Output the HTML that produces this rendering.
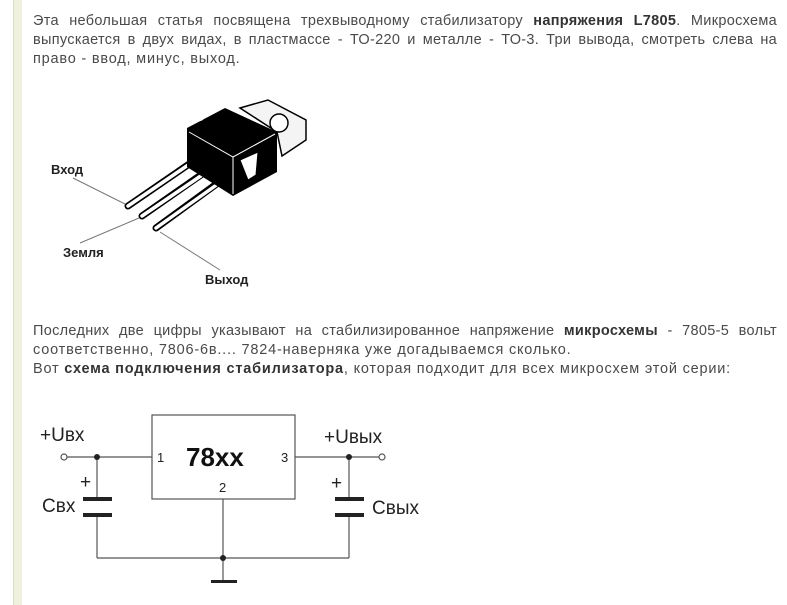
<!DOCTYPE html>
<html><head><meta charset="utf-8"><style>
body{margin:0;width:787px;height:605px;background:#fff;position:relative;overflow:hidden;font-family:"Liberation Sans",Arial,sans-serif}
.bar{position:absolute;left:13px;top:0;width:8px;height:605px;background:#eff0dd;border-left:1px solid #d8dccc}
.p{position:absolute;left:33px;width:744px;font-size:14.5px;line-height:19px;color:#4a4a4a;letter-spacing:0.8px}
.p div{white-space:nowrap}
.j{text-align:justify;text-align-last:justify;white-space:normal!important;letter-spacing:0.3px}
.p b{color:#333}
</style></head><body>
<div class="bar"></div>
<div class="p" style="top:12px">
<div class="j">Эта небольшая статья посвящена трехвыводному стабилизатору <b>напряжения L7805</b>. Микросхема</div>
<div class="j">выпускается в двух видах, в пластмассе - ТО-220 и металле - ТО-3. Три вывода, смотреть слева на</div>
<div>право - ввод, минус, выход.</div>
</div>
<div class="p" style="top:322px">
<div class="j">Последних две цифры указывают на стабилизированное напряжение <b>микросхемы</b> - 7805-5 вольт</div>
<div>соответственно, 7806-6в.... 7824-наверняка уже догадываемся сколько.</div>
<div>Вот <b>схема подключения стабилизатора</b>, которая подходит для всех микросхем этой серии:</div>
</div>
<svg width="787" height="605" style="position:absolute;left:0;top:0" font-family="Liberation Sans,Arial,sans-serif">
<polygon points="240,108 268,100 306,120 306,140 282,156 277,132" fill="#f4f4f4" stroke="#000" stroke-width="1.5"/>
<circle cx="279" cy="123" r="9" fill="#fff" stroke="#000" stroke-width="1.5"/>
<g stroke="#000" stroke-width="7" stroke-linecap="round"><line x1="195" y1="160" x2="128" y2="206"/><line x1="208" y1="170" x2="142" y2="216"/><line x1="222" y1="180" x2="156" y2="228"/></g>
<g stroke="#fff" stroke-width="3.5" stroke-linecap="round"><line x1="194" y1="161" x2="128" y2="206"/><line x1="208" y1="171" x2="142" y2="216"/><line x1="222" y1="181" x2="156" y2="228"/></g>
<polygon points="187,128 225,108 277,132 277,172 233,196 187,167" fill="#000"/>
<polyline points="189,132 233,157 275,134" fill="none" stroke="#fff" stroke-width="1"/>
<line x1="233" y1="157" x2="233" y2="194" stroke="#fff" stroke-width="1"/>
<path d="M240,160 L258,152 L256,175 L248,180 Z" fill="#fff" stroke="#000"/>
<circle cx="200" cy="117" r="4" fill="#fff"/>
<g stroke="#777" stroke-width="1"><line x1="73" y1="178" x2="125" y2="204"/><line x1="80" y1="243" x2="139" y2="218"/><line x1="160" y1="232" x2="220" y2="270"/></g>
<g font-weight="bold" font-size="13" fill="#222"><text x="51" y="174">Вход</text><text x="63" y="257">Земля</text><text x="205" y="284">Выход</text></g>
<g stroke="#555" stroke-width="1.2" fill="none">
<rect x="152" y="415" width="143" height="84"/>
<line x1="67" y1="457" x2="152" y2="457"/><line x1="295" y1="457" x2="379" y2="457"/>
<line x1="97" y1="457" x2="97" y2="498"/><line x1="97" y1="515" x2="97" y2="558"/>
<line x1="349" y1="457" x2="349" y2="498"/><line x1="349" y1="515" x2="349" y2="558"/>
<line x1="97" y1="558" x2="349" y2="558"/><line x1="223" y1="499" x2="223" y2="582"/>
<circle cx="64" cy="457" r="3" fill="#fff"/><circle cx="382" cy="457" r="3" fill="#fff"/>
</g>
<g fill="#222"><circle cx="97" cy="457" r="3"/><circle cx="349" cy="457" r="3"/><circle cx="223" cy="558" r="3"/>
<rect x="83" y="497" width="29" height="4"/><rect x="83" y="513" width="29" height="4"/>
<rect x="335" y="497" width="29" height="4"/><rect x="335" y="513" width="29" height="4"/>
<rect x="211" y="580" width="26" height="3"/></g>
<g fill="#222" font-size="19"><text x="40" y="441">+Uвх</text><text x="324" y="443">+Uвых</text><text x="42" y="512">Свх</text><text x="372" y="514">Свых</text><text x="80" y="488">+</text><text x="331" y="489">+</text></g>
<text x="186" y="466" font-size="26" font-weight="bold" fill="#111">78xx</text>
<g font-size="13" fill="#222"><text x="157" y="462">1</text><text x="281" y="462">3</text><text x="219" y="492">2</text></g>
</svg>
</body></html>
